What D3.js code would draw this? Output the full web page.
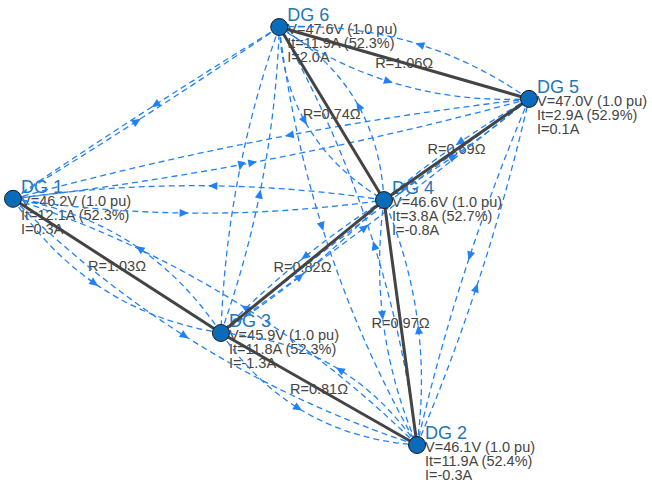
<!DOCTYPE html>
<html>
<head>
<meta charset="utf-8">
<script src="https://cdn.jsdelivr.net/npm/d3@7"></script>
<style>
  body { margin: 0; background: #fff; }
  svg { display: block; font-family: "Liberation Sans", Arial, sans-serif; }
</style>
</head>
<body>
<svg id="net"></svg>
<script>
/* global d3 */

// nodes (layout coords, y up)
const names = ["DG 1", "DG 2", "DG 3", "DG 4", "DG 5", "DG 6"];
const layoutX = [0.000, 0.783, 0.403, 0.719, 1.000, 0.516];
const layoutY = [0.589, 0.000, 0.268, 0.586, 0.828, 1.000];
const volts = [46.2, 46.1, 45.9, 46.6, 47.0, 47.6];
const pu = [1.0, 1.0, 1.0, 1.0, 1.0, 1.0];
const itotal = [12.1, 11.9, 11.8, 3.8, 2.9, 11.9];
const itPct = [52.3, 52.4, 52.3, 52.7, 52.9, 52.3];
const iout = [0.3, -0.3, -1.3, -0.8, 0.1, 2.0];

// electrical lines: [from, to, R]
const lines = [
    [6, 5, 1.06], [6, 4, 0.74], [4, 5, 0.69], [1, 3, 1.03],
    [3, 4, 0.82], [4, 2, 0.97], [3, 2, 0.81]
];

// communication links (both directions), curvature per pair
const commPairs = [
    [1, 2, 0.059], [1, 3, 0.109], [1, 4, 0.037], [1, 5, 0.019], [1, 6, 0.006],
    [2, 3, 0.120], [2, 4, 0.069], [2, 5, 0.022], [2, 6, 0.050],
    [3, 4, 0.029], [3, 5, 0.008], [3, 6, 0.039],
    [4, 5, 0.023], [4, 6, 0.134], [5, 6, 0.085]
];

const width = 652, height = 489;
const svg = d3.select("#net").attr("width", width).attr("height", height);

const x = d3.scaleLinear().domain([0, 1]).range([13, 529]);
const y = d3.scaleLinear().domain([0, 1]).range([445, 27]);

const nodes = names.map((n, i) => ({
    name: n, x: x(layoutX[i]), y: y(layoutY[i]),
    v: volts[i], pu: pu[i], it: itotal[i], pct: itPct[i], i: iout[i]
}));

const blue = "#2281f5";
const gray = "#444";

// text first (lines are drawn over it)
const labels = svg.append("g");
labels.selectAll("text.name")
    .data(nodes)
    .enter()
    .append("text")
    .attr("x", d => d.x + 8)
    .attr("y", d => d.y - 6)
    .attr("font-size", 18)
    .attr("fill", "#1f77b4")
    .text(d => d.name);

const info = labels.selectAll("text.info")
    .data(nodes)
    .enter()
    .append("text")
    .attr("font-size", 14.5)
    .attr("fill", gray);
info.append("tspan").attr("x", d => d.x + 8).attr("y", d => d.y + 7)
    .text(d => `V=${d.v.toFixed(1)}V (${d.pu.toFixed(1)} pu)`);
info.append("tspan").attr("x", d => d.x + 8).attr("y", d => d.y + 21)
    .text(d => `It=${d.it.toFixed(1)}A (${d.pct.toFixed(1)}%)`);
info.append("tspan").attr("x", d => d.x + 8).attr("y", d => d.y + 35)
    .text(d => `I=${d.i.toFixed(1)}A`);

labels.selectAll("text.r")
    .data(lines)
    .enter()
    .append("text")
    .attr("x", d => (nodes[d[0] - 1].x + nodes[d[1] - 1].x) / 2)
    .attr("y", d => (nodes[d[0] - 1].y + nodes[d[1] - 1].y) / 2)
    .attr("text-anchor", "middle")
    .attr("dominant-baseline", "central")
    .attr("font-size", 14.5)
    .attr("fill", gray)
    .text(d => `R=${d[2].toFixed(2)}Ω`);

// comm arcs: each direction bends to its own right side
const links = [];
commPairs.forEach(([a, b, rad]) => {
    links.push({ s: nodes[a - 1], t: nodes[b - 1], rad });
    links.push({ s: nodes[b - 1], t: nodes[a - 1], rad });
});

function geom(d) {
    const dx = d.t.x - d.s.x, dy = d.t.y - d.s.y;
    const len = Math.hypot(dx, dy);
    const nx = -dy / len, ny = dx / len;
    const cx = (d.s.x + d.t.x) / 2 + nx * d.rad * len * 2;
    const cy = (d.s.y + d.t.y) / 2 + ny * d.rad * len * 2;
    return { cx, cy };
}

const arcs = svg.append("g");
arcs.selectAll("path")
    .data(links)
    .enter()
    .append("path")
    .attr("d", d => {
        const g = geom(d);
        return `M${d.s.x},${d.s.y}Q${g.cx},${g.cy} ${d.t.x},${d.t.y}`;
    })
    .attr("fill", "none")
    .attr("stroke", blue)
    .attr("stroke-width", 1.3)
    .attr("stroke-dasharray", "6,4");

// arrowheads along each arc
const tA = 0.46;
arcs.selectAll("path.arrow")
    .data(links)
    .enter()
    .append("path")
    .attr("d", "M5,0L-4,-4L-4,4Z")
    .attr("fill", blue)
    .attr("transform", d => {
        const g = geom(d);
        const u = 1 - tA;
        const px = u * u * d.s.x + 2 * u * tA * g.cx + tA * tA * d.t.x;
        const py = u * u * d.s.y + 2 * u * tA * g.cy + tA * tA * d.t.y;
        const tx = 2 * u * (g.cx - d.s.x) + 2 * tA * (d.t.x - g.cx);
        const ty = 2 * u * (g.cy - d.s.y) + 2 * tA * (d.t.y - g.cy);
        const ang = Math.atan2(ty, tx) * 180 / Math.PI;
        return `translate(${px},${py}) rotate(${ang})`;
    });

// electrical lines
svg.append("g")
    .selectAll("line")
    .data(lines)
    .enter()
    .append("line")
    .attr("x1", d => nodes[d[0] - 1].x)
    .attr("y1", d => nodes[d[0] - 1].y)
    .attr("x2", d => nodes[d[1] - 1].x)
    .attr("y2", d => nodes[d[1] - 1].y)
    .attr("stroke", gray)
    .attr("stroke-width", 3);

// nodes
svg.append("g")
    .selectAll("circle")
    .data(nodes)
    .enter()
    .append("circle")
    .attr("cx", d => d.x)
    .attr("cy", d => d.y)
    .attr("r", 8.5)
    .attr("fill", "#0a6cb8")
    .attr("stroke", "#1a1a1a")
    .attr("stroke-width", 1);
</script>
</body>
</html>
